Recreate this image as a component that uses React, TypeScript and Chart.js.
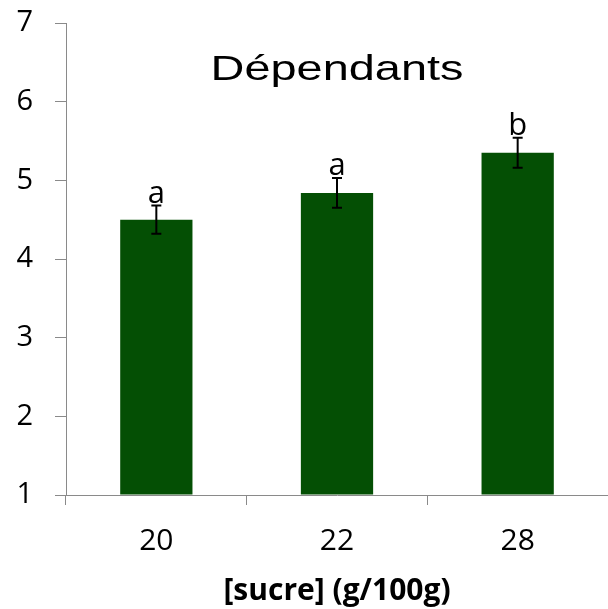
import React, { useEffect, useRef } from "react";
import { Chart, registerables } from "chart.js";

Chart.register(...registerables);

// Sugar concentration groups (g/100g)
const categories: string[] = ["20", "22", "28"];
// Mean score per group
const means: number[] = [4.5, 4.84, 5.35];
// Standard error per group
const errors: number[] = [0.18, 0.19, 0.19];
// Significance letters above each bar
const letters: string[] = ["a", "a", "b"];
// Y axis range
const yMin = 1;
const yMax = 7;

const chartTitle = "Dépendants";
const xTitle = "[sucre] (g/100g)";

const BAR_COLOR = "#044f04";
const AXIS_COLOR = "#8a8a8a";
const BODY_FONT = "'Open Sans', 'Noto Sans', sans-serif";

const annotations = {
  id: "errorBarsAndLetters",
  afterDatasetsDraw(chart: any) {
    const { ctx, scales, chartArea } = chart;
    const x = scales.x;
    const y = scales.y;
    ctx.save();
    // error bars
    ctx.strokeStyle = "#000";
    ctx.lineWidth = 2;
    means.forEach((m, i) => {
      const px = x.getPixelForValue(i);
      const top = y.getPixelForValue(m + errors[i]);
      const bot = y.getPixelForValue(m - errors[i]);
      ctx.beginPath();
      ctx.moveTo(px, top);
      ctx.lineTo(px, bot);
      ctx.moveTo(px - 5, top);
      ctx.lineTo(px + 5, top);
      ctx.moveTo(px - 5, bot);
      ctx.lineTo(px + 5, bot);
      ctx.stroke();
    });
    // letters
    ctx.fillStyle = "#000";
    ctx.font = `31px ${BODY_FONT}`;
    ctx.textAlign = "center";
    ctx.textBaseline = "alphabetic";
    letters.forEach((l, i) => {
      const px = x.getPixelForValue(i);
      const top = y.getPixelForValue(means[i] + errors[i]);
      ctx.fillText(l, px, top - 3);
    });
    // title inside plot area, drawn slightly widened
    const cx = (chartArea.left + chartArea.right) / 2;
    ctx.translate(cx, chartArea.top + 57);
    ctx.scale(1.34, 1);
    ctx.font = "35px 'Liberation Sans', Arial, sans-serif";
    ctx.fillText(chartTitle, 0, 0);
    ctx.restore();
  },
};

export default function App() {
  const canvasRef = useRef<HTMLCanvasElement | null>(null);

  useEffect(() => {
    if (!canvasRef.current) return;
    const chart = new Chart(canvasRef.current, {
      type: "bar",
      data: {
        labels: categories,
        datasets: [
          {
            data: means,
            backgroundColor: BAR_COLOR,
            borderWidth: 0,
            base: yMin,
            barPercentage: 0.4,
            categoryPercentage: 1,
          },
        ],
      },
      options: {
        animation: false,
        responsive: false,
        maintainAspectRatio: false,
        layout: { padding: { top: 23, left: 0, right: 0, bottom: 0 } },
        plugins: {
          legend: { display: false },
          tooltip: { enabled: false },
          title: { display: false },
        },
        scales: {
          x: {
            offset: true,
            afterFit(scale: any) {
              scale.height = 114;
              scale.paddingLeft = 0;
              scale.paddingRight = 0;
            },
            grid: {
              display: true,
              offset: true,
              drawOnChartArea: false,
              drawTicks: true,
              tickLength: 10,
              color: AXIS_COLOR,
            },
            border: { display: true, color: AXIS_COLOR, width: 1 },
            ticks: {
              color: "#000",
              padding: 18,
              font: { family: BODY_FONT, size: 30 },
            },
            title: {
              display: true,
              text: xTitle,
              color: "#000",
              font: { family: BODY_FONT, size: 30, weight: "bold" },
              padding: { top: 4, bottom: 0 },
            },
          },
          y: {
            min: yMin,
            max: yMax,
            afterFit(scale: any) {
              scale.width = 66;
              scale.paddingTop = 0;
              scale.paddingBottom = 0;
            },
            grid: {
              display: true,
              drawOnChartArea: false,
              drawTicks: true,
              tickLength: 11,
              color: AXIS_COLOR,
            },
            border: { display: true, color: AXIS_COLOR, width: 1 },
            ticks: {
              stepSize: 1,
              color: "#000",
              padding: 22,
              font: { family: BODY_FONT, size: 29 },
            },
          },
        },
      },
      plugins: [annotations],
    });
    return () => chart.destroy();
  }, []);

  return (
    <div style={{ position: "fixed", left: 0, top: 0, width: 608, height: 609, background: "#fff" }}>
      <canvas ref={canvasRef} width={608} height={609} style={{ display: "block" }} />
    </div>
  );
}
